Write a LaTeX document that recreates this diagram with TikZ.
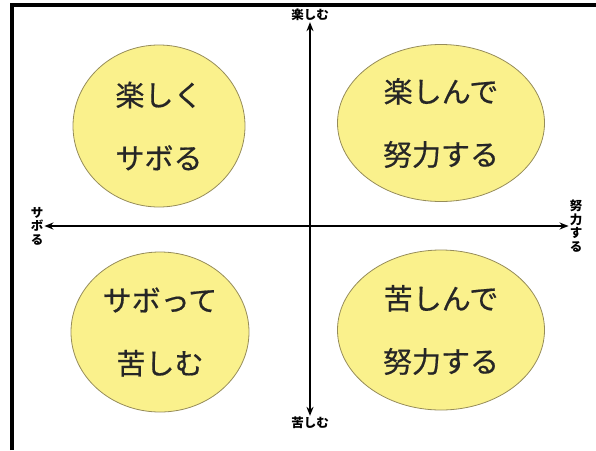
\documentclass[tikz,border=0pt]{standalone}
\usepackage{fontspec}
\setmainfont{Noto Sans CJK JP}
\newfontfamily\padfont[FakeBold=0.6]{Noto Sans CJK JP}
\usepackage{tikz}
\usetikzlibrary{shapes,arrows.meta,positioning}

\definecolor{pad}{RGB}{250,241,140}
\definecolor{padline}{RGB}{150,140,90}

\begin{document}
\begin{tikzpicture}[
    x=1pt, y=-1pt,
    quad/.style={ellipse, draw=padline, fill=pad, line width=0.8pt, align=center,
        inner sep=0pt, font=\padfont\fontsize{29}{63}\selectfont, text=black!85},
    tag/.style={font=\bfseries\fontsize{12.5}{13.5}\selectfont, align=center, inner sep=1pt},
    axis/.style={{Stealth[length=9pt,width=7pt]}-{Stealth[length=9pt,width=7pt]}, line width=1.6pt}
]
    \useasboundingbox (0,0) rectangle (596,450);
    \draw[line width=4pt] (12,450) -- (12,5) -- (596,5);

    \node[quad, minimum width=172pt, minimum height=162pt] (play) at (159,126) {楽しく\\サボる};
    \node[quad, minimum width=207pt, minimum height=157pt] (fun) at (441,123) {楽しんで\\努力する};
    \node[quad, minimum width=178pt, minimum height=160pt] (slack) at (160,332) {サボって\\苦しむ};
    \node[quad, minimum width=207pt, minimum height=160pt] (hard) at (441,330) {苦しんで\\努力する};

    % axes
    \node[tag] (top) at (310,15) {楽しむ};
    \node[tag] (bottom) at (310,423) {苦しむ};
    \node[tag] (left) at (37,226) {サ\\ボ\\る};
    \node[tag] (right) at (576,226) {努\\力\\す\\る};

    \draw[axis] (top) -- (bottom);
    \draw[axis] (left) -- (right);
\end{tikzpicture}
\end{document}
